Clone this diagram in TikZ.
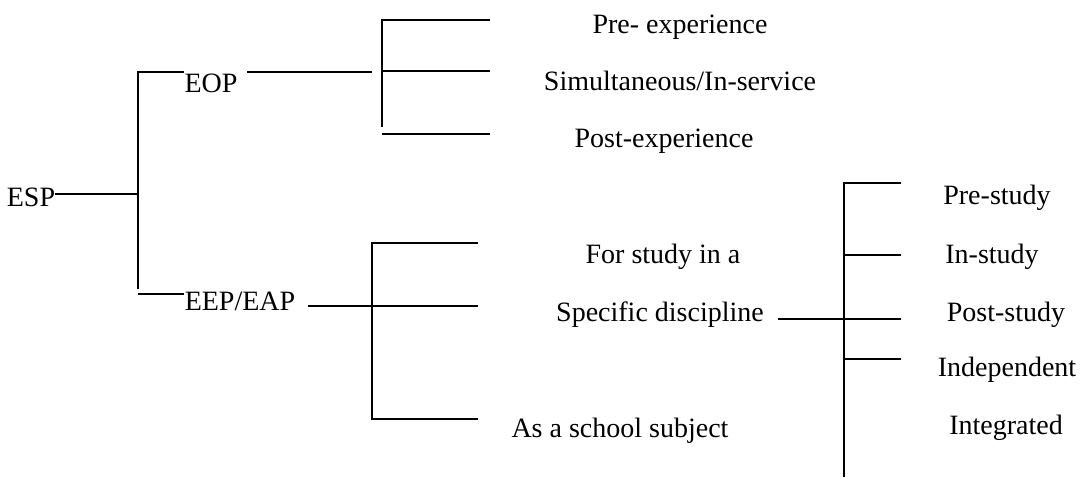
\documentclass[tikz,border=0pt]{standalone}
\usepackage{fontspec}
\setmainfont{Liberation Serif}
\usetikzlibrary{positioning}
\tikzset{lbl/.style={inner sep=0pt,font=\fontsize{14}{16}\selectfont}}
\tikzstyle{ln}=[line width=1pt]

\begin{document}
\begin{tikzpicture}[x=0.5pt,y=-0.5pt]
    \useasboundingbox (0,0) rectangle (1080,478);
    % labels
    \node [lbl] (esp) at (31,197) {ESP};
    \node [lbl] (eop) at (211,83) {EOP};
    \node [lbl] (eep) at (240,301) {EEP/EAP};
    \node [lbl] (pre) at (680,27) {Pre- experience};
    \node [lbl] (sim) at (680,81) {Simultaneous/In-service};
    \node [lbl] (post) at (664,141) {Post-experience};
    \node [lbl] (forst) at (663,257) {For study in a};
    \node [lbl] (spec) at (660,315) {Specific discipline};
    \node [lbl] (school) at (620,431) {As a school subject};
    \node [lbl] (prest) at (997,198) {Pre-study};
    \node [lbl] (inst) at (992,257) {In-study};
    \node [lbl] (postst) at (1006,315) {Post-study};
    \node [lbl] (indep) at (1007,370) {Independent};
    \node [lbl] (integ) at (1006,428) {Integrated};
    % bracket points
    \coordinate (e1) at (55,194);   \coordinate (e2) at (138,194);
    \coordinate (e3) at (138,72);   \coordinate (e4) at (138,289);
    \coordinate (e5) at (184,72);   \coordinate (e6) at (138,294);
    \coordinate (e7) at (184,294);
    \coordinate (o1) at (247,72);   \coordinate (o2) at (372,72);
    \coordinate (o3) at (382,20);   \coordinate (o4) at (382,127);
    \coordinate (o5) at (490,20);   \coordinate (o6) at (382,71);
    \coordinate (o7) at (490,71);   \coordinate (o8) at (382,134);
    \coordinate (o9) at (490,134);
    \coordinate (a1) at (308,306);  \coordinate (a2) at (478,306);
    \coordinate (a3) at (372,243);  \coordinate (a4) at (372,419);
    \coordinate (a5) at (478,243);  \coordinate (a6) at (478,419);
    \coordinate (s1) at (778,319);  \coordinate (s2) at (901,319);
    \coordinate (s3) at (844,183);  \coordinate (s4) at (844,477);
    \coordinate (s5) at (901,183);  \coordinate (s6) at (844,255);
    \coordinate (s7) at (901,255);  \coordinate (s8) at (844,359);
    \coordinate (s9) at (901,359);
    % ESP
    \draw [ln] (e1) -- (e2);
    \draw [ln] (e5) -- (e3) -- (e4);
    \draw [ln] (e6) -- (e7);
    % EOP
    \draw [ln] (o1) -- (o2);
    \draw [ln] (o5) -- (o3) -- (o4);
    \draw [ln] (o6) -- (o7);
    \draw [ln] (o8) -- (o9);
    % EEP/EAP
    \draw [ln] (a1) -- (a2);
    \draw [ln] (a5) -- (a3) -- (a4) -- (a6);
    % discipline
    \draw [ln] (s1) -- (s2);
    \draw [ln] (s5) -- (s3) -- (s4);
    \draw [ln] (s6) -- (s7);
    \draw [ln] (s8) -- (s9);
\end{tikzpicture}
\end{document}
